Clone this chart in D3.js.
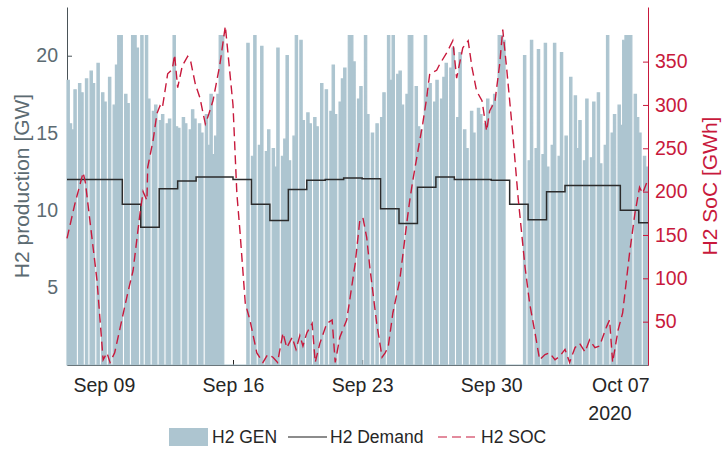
<!DOCTYPE html>
<html>
<head>
<meta charset="utf-8">
<script src="https://cdn.jsdelivr.net/npm/d3@7"></script>
<style>
  body { margin: 0; background: #fff; }
  text { font-family: 'Liberation Sans', Arial, sans-serif; }
</style>
</head>
<body>
<div id="chart"></div>
<script>
// ---- data ----
// H2 GEN [GW], one value per 3 hours, one row per day starting Sep 07 2020
const genByDay = [
  [18.4, 15.6, 15.2, 17.8, 0, 18.2, 17.6, 0],
  [18.5, 0, 19.0, 18.2, 0, 19.5, 0, 17.6],
  [17.0, 0, 18.6, 0, 16.8, 19.4, 21.3, 21.3],
  [0, 17.5, 16.9, 0, 21.3, 21.3, 20.5, 0],
  [21.3, 0, 21.3, 17.2, 0, 16.4, 16.8, 0],
  [15.8, 16.2, 0, 15.6, 15.9, 0, 21.3, 15.4],
  [15.3, 0, 16.0, 15.6, 0, 15.2, 16.5, 15.9],
  [0, 15.6, 15.0, 0, 16.2, 14.2, 17.5, 13.6],
  [14.8, 17.5, 21.3, 21.3, 0, 0, 0, 0],
  [0, 0, 0, 0, 0, 0, 20.8, 0],
  [13.5, 21.3, 0, 14.2, 20.6, 0, 13.8, 15.2],
  [0, 14.0, 12.8, 20.5, 0, 13.5, 14.6, 20.0],
  [13.2, 0, 14.8, 21.3, 0, 21.0, 15.8, 0],
  [16.3, 15.6, 0, 16.0, 15.4, 0, 18.2, 0],
  [17.8, 0, 16.4, 19.4, 16.2, 0, 17.0, 18.5],
  [19.2, 0, 21.3, 21.3, 19.6, 0, 17.2, 18.0],
  [0, 21.3, 16.2, 0, 15.0, 0, 15.6, 0],
  [16.0, 17.6, 0, 21.3, 18.4, 21.3, 0, 18.8],
  [19.0, 16.8, 0, 17.5, 21.3, 21.3, 0, 18.0],
  [15.4, 15.2, 0, 21.3, 17.6, 18.2, 0, 17.0],
  [18.4, 0, 17.2, 18.6, 19.5, 0, 19.2, 20.5],
  [0, 16.0, 20.2, 0, 15.2, 14.0, 0, 16.4],
  [15.0, 0, 16.6, 16.2, 0, 15.6, 17.2, 0],
  [16.8, 17.5, 0, 21.3, 21.3, 21.0, 0, 0],
  [0, 0, 0, 0, 0, 0, 20.0, 0],
  [13.2, 21.0, 0, 14.0, 20.4, 0, 13.6, 20.8],
  [12.8, 0, 14.2, 20.8, 0, 13.5, 20.2, 0],
  [14.8, 0, 18.6, 0, 17.4, 14.0, 15.8, 0],
  [13.2, 17.2, 0, 13.4, 17.0, 0, 17.6, 13.0],
  [0, 14.2, 21.3, 0, 15.0, 16.2, 0, 16.8],
  [15.5, 21.0, 21.3, 21.3, 21.3, 0, 17.5, 16.0],
  [15.0, 0, 13.5, 12.8]
]
const genStepHours = 3

// H2 Demand [GW], one value per day
const demand = [12.0, 12.0, 12.0, 10.4, 8.9, 11.4, 11.9, 12.15, 12.15, 12.0,
  10.4, 9.35, 11.35, 11.95, 12.0, 12.1, 12.05, 10.1, 9.15, 11.5,
  12.15, 12.0, 12.0, 11.95, 10.4, 9.4, 11.2, 11.6, 11.6, 11.6,
  10.0, 9.2]

// H2 SOC [GWh], hours since start / value
const socHours = [0, 10, 21, 24, 39, 47, 52, 56, 62, 79, 86, 95, 99, 104, 105, 112, 117, 121, 124,
  131, 137, 140, 144, 150, 157, 161, 167, 173, 180, 184, 190, 199, 206, 216, 221,
  225, 232, 238, 247, 255, 261, 268, 274, 281, 286, 293, 298, 303, 307, 312, 319,
  323, 329, 338, 345, 349, 355, 364, 375, 381, 385, 390, 394, 403, 410, 414, 418,
  424, 433, 442, 446, 450, 459, 463, 468, 472, 481, 485, 494, 502, 507, 515, 522,
  527, 533, 540, 546, 550, 557, 563, 567, 572, 580, 587, 596, 602, 609, 615, 622,
  628, 635, 641, 648, 654, 661, 667, 674, 680, 687, 693, 702, 706, 710, 717, 723,
  732, 739, 745, 749, 755]
const socValues = [146, 185, 222, 210, 98, 6, 14, 3, 14, 83, 109, 175, 200, 190, 228, 259, 290, 299, 296,
  336, 341, 358, 320, 345, 356, 350, 324, 308, 278, 288, 305, 347, 391, 300, 198,
  155, 71, 52, 14, 3, 12, 9, 3, 37, 20, 32, 18, 34, 22, 37, 48,
  3, 25, 48, 52, 3, 32, 52, 117, 167, 170, 147, 113, 48, 9, 14, 21,
  60, 98, 163, 190, 213, 259, 279, 308, 336, 340, 347, 360, 374, 331, 366, 374,
  343, 316, 305, 270, 293, 305, 347, 387, 343, 267, 193, 113, 71, 37, 6, 12,
  14, 6, 10, 18, 3, 20, 25, 15, 29, 20, 22, 44, 52, 3, 40, 60,
  129, 175, 205, 198, 212]

const dateTicks = [new Date(Date.UTC(2020, 8, 9)), new Date(Date.UTC(2020, 8, 16)),
  new Date(Date.UTC(2020, 8, 23)), new Date(Date.UTC(2020, 8, 30)), new Date(Date.UTC(2020, 9, 7))]
const genTicks = [5, 10, 15, 20]
const socTicks = [50, 100, 150, 200, 250, 300, 350]

// ---- layout ----
const W = 723
const H = 462
const plot = { left: 67, right: 648, top: 7, bottom: 365 }

const start = Date.UTC(2020, 8, 7)
const hour = 3600 * 1000
const toDate = h => new Date(start + h * hour)

const genColor = '#adc5d0'
const socColor = '#c8193c'
const leftColor = '#5c6b72'

const svg = d3.select('#chart').append('svg')
  .attr('width', W)
  .attr('height', H)

const x = d3.scaleUtc()
  .domain([toDate(0), toDate(31.5 * 24)])
  .range([plot.left, plot.right])

const yGen = d3.scaleLinear().domain([0, 23.15]).range([plot.bottom, plot.top])
const ySoc = d3.scaleLinear().domain([0, 413]).range([plot.bottom, plot.top])

// axes underneath the data (like matlab's default layer)
const xAxis = svg.append('g')
  .attr('transform', 'translate(0,' + plot.bottom + ')')
  .call(d3.axisBottom(x).tickValues(dateTicks).tickFormat(d3.utcFormat('%b %d'))
    .tickSizeInner(-5).tickSizeOuter(0).tickPadding(13))
xAxis.select('.domain').attr('stroke', '#262626')
xAxis.selectAll('.tick line').attr('stroke', '#262626')
xAxis.selectAll('text').attr('fill', '#262626').style('font-size', '19.5px')

const leftAxis = svg.append('g')
  .attr('transform', 'translate(' + plot.left + ',0)')
  .call(d3.axisLeft(yGen).tickValues(genTicks).tickSizeInner(-5).tickSizeOuter(0).tickPadding(9))
leftAxis.select('.domain').attr('stroke', '#4a5458')
leftAxis.selectAll('.tick line').attr('stroke', '#4a5458')
leftAxis.selectAll('text').attr('fill', leftColor).style('font-size', '19.5px')

// year under the last date
svg.append('text')
  .attr('x', 610).attr('y', 420)
  .attr('text-anchor', 'middle')
  .attr('fill', '#262626')
  .style('font-size', '19.5px')
  .text('2020')

// H2 GEN area
const gen = genByDay.flat().map((v, i) => ({ t: toDate(i * genStepHours), v: v }))
gen.push({ t: toDate(gen.length * genStepHours), v: gen[gen.length - 1].v })

// a thin stroke in the fill colour makes the zero gaps read as hairlines
svg.append('path')
  .datum(gen)
  .attr('fill', genColor)
  .attr('stroke', genColor)
  .attr('stroke-width', 1.2)
  .attr('d', d3.area().curve(d3.curveStepAfter)
    .x(d => x(d.t)).y0(yGen(0)).y1(d => yGen(d.v)))

// H2 Demand step line
const dem = demand.map((v, i) => ({ t: toDate(i * 24), v: v }))
dem.push({ t: toDate(31.5 * 24), v: demand[demand.length - 1] })

svg.append('path')
  .datum(dem)
  .attr('fill', 'none')
  .attr('stroke', '#2b2b2b')
  .attr('stroke-width', 1.5)
  .attr('d', d3.line().curve(d3.curveStepAfter).x(d => x(d.t)).y(d => yGen(d.v)))

// H2 SOC dashed line
const soc = socHours.map((h, i) => ({ t: toDate(h), v: socValues[i] }))

svg.append('path')
  .datum(soc)
  .attr('fill', 'none')
  .attr('stroke', socColor)
  .attr('stroke-width', 1.4)
  .attr('stroke-dasharray', '9,5')
  .attr('d', d3.line().x(d => x(d.t)).y(d => ySoc(d.v)))

// right axis
const rightAxis = svg.append('g')
  .attr('transform', 'translate(' + plot.right + ',0)')
  .call(d3.axisRight(ySoc).tickValues(socTicks).tickSizeInner(-5).tickSizeOuter(0).tickPadding(7))
rightAxis.select('.domain').attr('stroke', socColor)
rightAxis.selectAll('.tick line').attr('stroke', socColor)
rightAxis.selectAll('text').attr('fill', socColor).style('font-size', '19.5px')

// axis titles
const midY = (plot.top + plot.bottom) / 2
svg.append('text')
  .attr('transform', 'translate(29,' + midY + ') rotate(-90)')
  .attr('text-anchor', 'middle')
  .attr('fill', leftColor)
  .style('font-size', '21px')
  .text('H2 production [GW]')

svg.append('text')
  .attr('transform', 'translate(717,' + midY + ') rotate(-90)')
  .attr('text-anchor', 'middle')
  .attr('fill', socColor)
  .style('font-size', '21px')
  .text('H2 SoC [GWh]')

// legend
const legY = 437
const leg = svg.append('g').style('font-size', '17.5px')
leg.append('rect').attr('x', 169).attr('y', legY - 9).attr('width', 39).attr('height', 18).attr('fill', genColor)
leg.append('text').attr('x', 212).attr('y', legY + 6).attr('fill', '#262626').text('H2 GEN')
leg.append('line').attr('x1', 288).attr('x2', 327).attr('y1', legY).attr('y2', legY)
  .attr('stroke', '#1a1a1a').attr('stroke-width', 1.2)
leg.append('text').attr('x', 330).attr('y', legY + 6).attr('fill', '#262626').text('H2 Demand')
leg.append('line').attr('x1', 438).attr('x2', 478).attr('y1', legY).attr('y2', legY)
  .attr('stroke', socColor).attr('stroke-width', 1.2).attr('stroke-dasharray', '9,5')
leg.append('text').attr('x', 481).attr('y', legY + 6).attr('fill', '#262626').text('H2 SOC')
</script>
</body>
</html>
